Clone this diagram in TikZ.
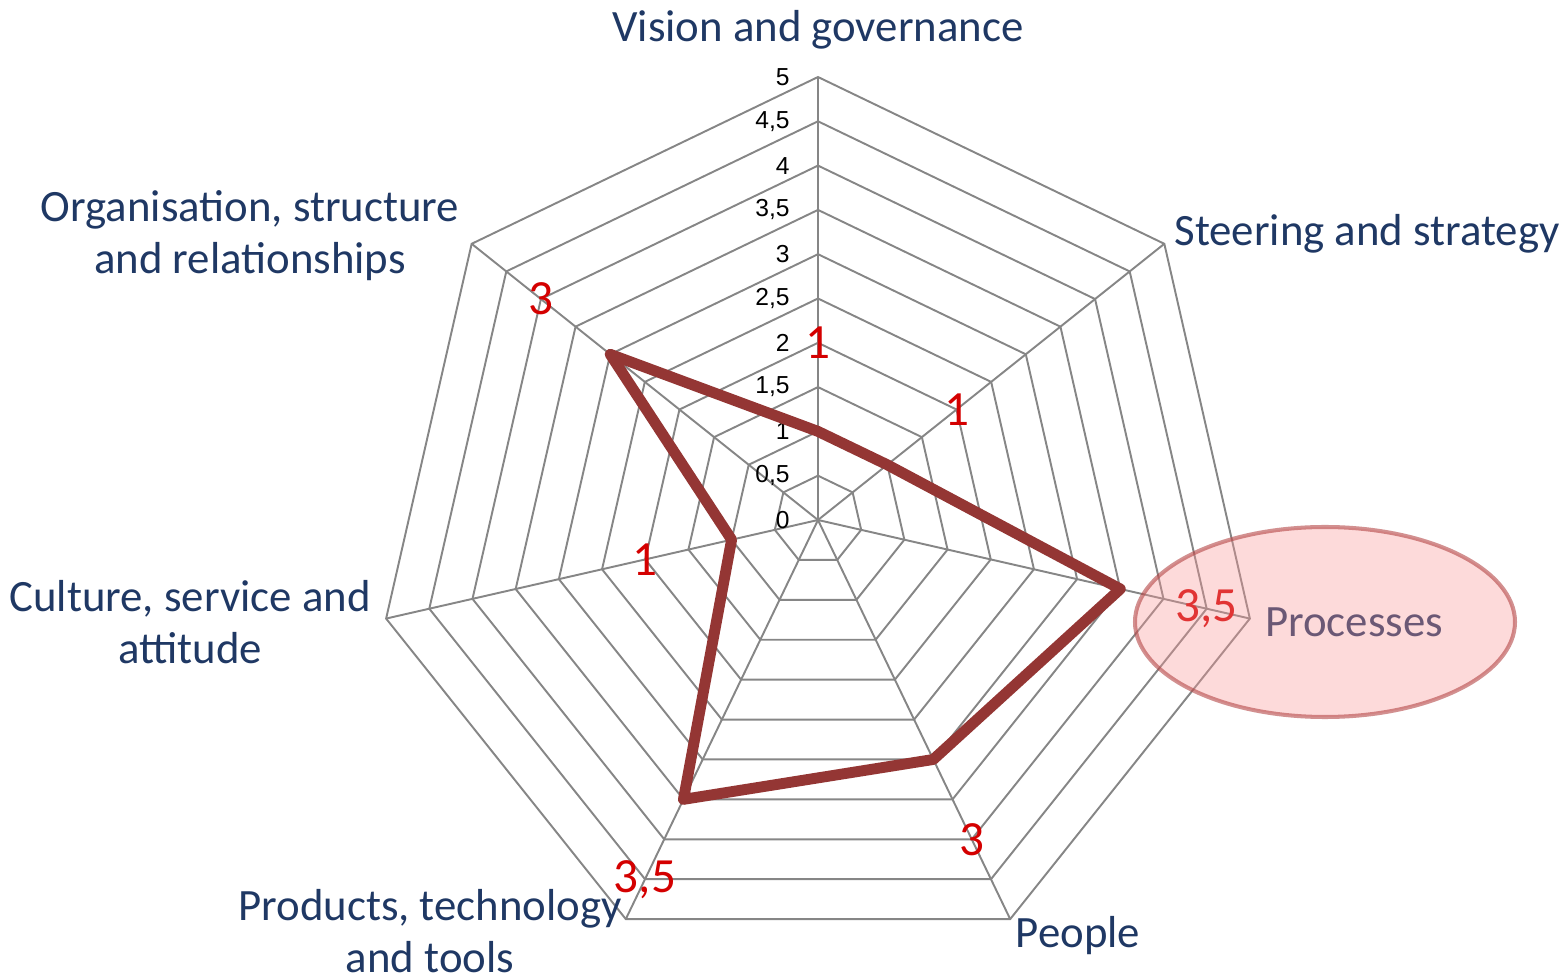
\documentclass[tikz,border=0pt]{standalone}
\usepackage{fontspec}
\setmainfont{Carlito}
\newfontfamily\scalefont{Liberation Sans}
\usetikzlibrary{calc,shapes}
\definecolor{axisblue}{RGB}{31,56,100}
\definecolor{gridgray}{RGB}{134,134,134}
\definecolor{dataline}{RGB}{148,54,52}
\definecolor{datared}{RGB}{212,0,0}
\definecolor{markpink}{RGB}{250,150,150}
\definecolor{markedge}{RGB}{180,70,70}

\begin{document}
\begin{tikzpicture}[
	axislabel/.style={text=axisblue,align=center,inner sep=0pt,font=\fontsize{25.5}{29.5}\selectfont},
	scalelabel/.style={anchor=east,inner sep=0pt,font=\scalefont\fontsize{14}{16}\selectfont},
	valuelabel/.style={text=datared,inner sep=0pt,font=\fontsize{28}{30}\selectfont}]
\useasboundingbox (-16.36,-9.2) rectangle (14.86,10.4);
\def\u{1.772}
\coordinate (c) at (0,0);
\foreach \k in {1,...,10}
{
	\draw[gridgray,line width=1.1pt] (90:{\k*\u/2}) foreach \a in {1,...,6}{ -- ({90-\a*360/7}:{\k*\u/2})} -- cycle;
}
\foreach \a in {0,...,6}
{
	\draw[gridgray,line width=1.1pt] (c) -- ({90-\a*360/7}:{5*\u});
}
\foreach \k/\t in {0/0,1/{0,5},2/1,3/{1,5},4/2,5/{2,5},6/3,7/{3,5},8/4,9/{4,5},10/5}
	\node[scalelabel] (s\k) at (-0.56,{\k*\u/2}) {\t};

	\node[axislabel] (vision) at (0,9.8) {Vision and governance};
	\node[axislabel] (steering) at (10.98,5.72) {Steering and strategy};
	\node[axislabel] (processes) at (10.72,-2.04) {Processes};
	\node[axislabel] (people) at (5.2,-8.32) {People};
	\node[axislabel] (products) at (-7.76,-8.22) {Products, technology\\and tools};
	\node[axislabel] (culture) at (-12.56,-2.04) {Culture, service and\\attitude};
	\node[axislabel] (organisation) at (-11.36,5.68) {Organisation, structure\\and relationships};

\foreach \v [count=\i from 0] in {1,1,3.5,3,3.5,1,3}
{
	\coordinate (d\i) at ({90-\i*360/7}:{\v*\u});
}
\draw[dataline,line width=6.2pt,line join=round] (d0) -- (d1) -- (d2) -- (d3) -- (d4) -- (d5) -- (d6) -- cycle;

\foreach \v/\t [count=\i from 0] in {1/1,1/1,3.5/{3,5},3/3,3.5/{3,5},1/1,3/3}
	\node[valuelabel] (v\i) at ({90-\i*360/7}:{(\v+1)*\u}) {\t};

\coordinate (mark) at (10.14,-2.04);
\filldraw[fill=markpink,draw=markedge,fill opacity=.35,draw opacity=.6,line width=2.3pt] (mark) ellipse (3.8 and 1.9);
\end{tikzpicture}
\end{document}
